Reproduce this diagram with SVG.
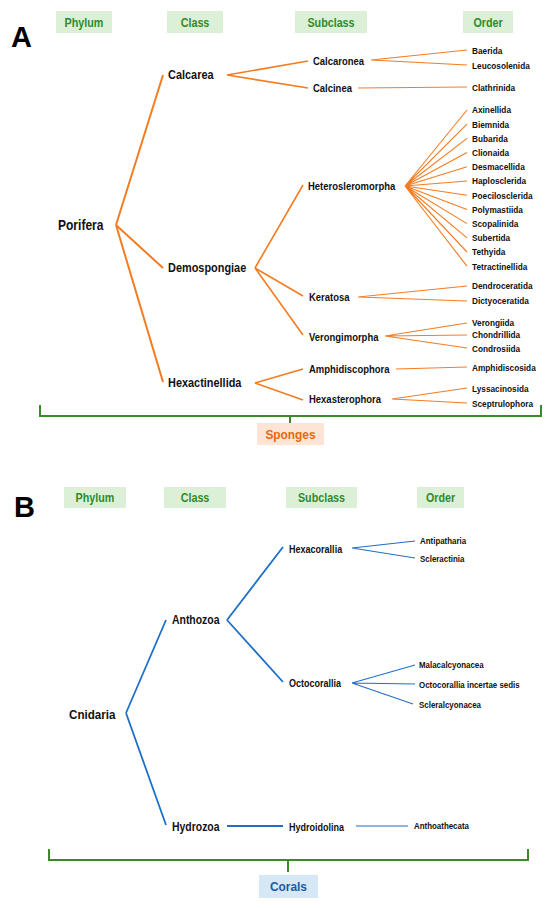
<svg xmlns="http://www.w3.org/2000/svg" width="550" height="908" viewBox="0 0 550 908">
<style>
text{font-family:"Liberation Sans",Arial,sans-serif;font-weight:bold;fill:#111}
.hdr{font-size:12.5px;fill:#2e8b2a;text-anchor:middle}
.hbox{fill:#dcf0d8}
.big{font-size:29px;fill:#000}
.phy{font-size:14px}
.phyb{font-size:13.5px}
.cls{font-size:12px}
.sub{font-size:10.2px}
.subb{font-size:10.5px}
.ord{font-size:9.5px}
.ordb{font-size:9px}
.o1{stroke:#f47c22;fill:none;stroke-width:2}
.o2{stroke:#f47c22;fill:none;stroke-width:1.6}
.o3{stroke:#f47c22;fill:none;stroke-width:1.1}
.b1{stroke:#1f6fc8;fill:none;stroke-width:1.8}
.b2{stroke:#1f6fc8;fill:none;stroke-width:1.1}
.br{stroke:#3a8a2a;fill:none;stroke-width:2}
</style>
<g id="headers-a">
<rect class="hbox" x="56" y="11" width="56" height="22"/>
<text class="hdr" transform="translate(84,26.5) scale(0.86,1)">Phylum</text>
<rect class="hbox" x="167" y="11" width="56" height="22"/>
<text class="hdr" transform="translate(195,26.5) scale(0.86,1)">Class</text>
<rect class="hbox" x="295" y="11" width="72" height="22"/>
<text class="hdr" transform="translate(331,26.5) scale(0.86,1)">Subclass</text>
<rect class="hbox" x="463" y="11" width="50" height="22"/>
<text class="hdr" transform="translate(488,26.5) scale(0.86,1)">Order</text>
<text class="big" x="11" y="47">A</text>
</g>
<g id="connectors-a">
<path class="o1" d="M116,225L163,75M116,225L163,268M116,225L163,382"/>
<path class="o2" d="M227,75L308,61M227,75L308,88M255,268L303,185M255,268L303,296M255,268L303,335M255,383L303,369M255,383L303,400"/>
<path class="o3" d="M371,60L467,50M371,60L467,65M358,88L467,87"/>
<path class="o3" d="M405,186L467,110M405,186L467,124.2M405,186L467,138.4M405,186L467,152.6M405,186L467,166.8M405,186L467,181M405,186L467,195.2M405,186L467,209.4M405,186L467,223.6M405,186L467,237.8M405,186L467,252M405,186L467,266.2"/>
<path class="o3" d="M358,297L467,286M358,297L467,301M385,336L467,323M385,336L467,335M385,336L467,348M396,369L467,367M392,399L467,388M392,399L467,403"/>
<path class="br" d="M40,405V416H541V405M290,416V425"/>
</g>
<g id="n-porifera"><text class="phy" transform="translate(58,230) scale(0.86,1)">Porifera</text></g>
<g id="n-calcarea"><text class="cls" transform="translate(168,79.3) scale(0.91,1)">Calcarea</text></g>
<g id="n-demospongiae"><text class="cls" transform="translate(168,272.3) scale(0.91,1)">Demospongiae</text></g>
<g id="n-hexactinellida"><text class="cls" transform="translate(168,387.3) scale(0.91,1)">Hexactinellida</text></g>
<g id="n-calcaronea"><text class="sub" transform="translate(313,64.7) scale(0.93,1)">Calcaronea</text></g>
<g id="n-calcinea"><text class="sub" transform="translate(313,91.7) scale(0.93,1)">Calcinea</text></g>
<g id="n-heterosleromorpha"><text class="sub" transform="translate(308,189.7) scale(0.93,1)">Heterosleromorpha</text></g>
<g id="n-keratosa"><text class="sub" transform="translate(309,300.7) scale(0.93,1)">Keratosa</text></g>
<g id="n-verongimorpha"><text class="sub" transform="translate(309,340.7) scale(0.93,1)">Verongimorpha</text></g>
<g id="n-amphidiscophora"><text class="sub" transform="translate(309,372.7) scale(0.93,1)">Amphidiscophora</text></g>
<g id="n-hexasterophora"><text class="sub" transform="translate(309,402.7) scale(0.93,1)">Hexasterophora</text></g>
<g id="n-orders-a">
<text class="ord" transform="translate(472,54.4) scale(0.87,1)">Baerida</text>
<text class="ord" transform="translate(472,69.4) scale(0.87,1)">Leucosolenida</text>
<text class="ord" transform="translate(472,91.4) scale(0.87,1)">Clathrinida</text>
<text class="ord" transform="translate(472,113.4) scale(0.87,1)">Axinellida</text>
<text class="ord" transform="translate(472,127.6) scale(0.87,1)">Biemnida</text>
<text class="ord" transform="translate(472,141.8) scale(0.87,1)">Bubarida</text>
<text class="ord" transform="translate(472,156) scale(0.87,1)">Clionaida</text>
<text class="ord" transform="translate(472,170.2) scale(0.87,1)">Desmacellida</text>
<text class="ord" transform="translate(472,184.4) scale(0.87,1)">Haplosclerida</text>
<text class="ord" transform="translate(472,198.6) scale(0.87,1)">Poecilosclerida</text>
<text class="ord" transform="translate(472,212.8) scale(0.87,1)">Polymastiida</text>
<text class="ord" transform="translate(472,227) scale(0.87,1)">Scopalinida</text>
<text class="ord" transform="translate(472,241.2) scale(0.87,1)">Subertida</text>
<text class="ord" transform="translate(472,255.4) scale(0.87,1)">Tethyida</text>
<text class="ord" transform="translate(472,269.6) scale(0.87,1)">Tetractinellida</text>
<text class="ord" transform="translate(472,289.4) scale(0.87,1)">Dendroceratida</text>
<text class="ord" transform="translate(472,304.4) scale(0.87,1)">Dictyoceratida</text>
<text class="ord" transform="translate(472,326.4) scale(0.87,1)">Verongiida</text>
<text class="ord" transform="translate(472,338.4) scale(0.87,1)">Chondrillida</text>
<text class="ord" transform="translate(472,352.4) scale(0.87,1)">Condrosiida</text>
<text class="ord" transform="translate(472,371.4) scale(0.87,1)">Amphidiscosida</text>
<text class="ord" transform="translate(472,392.4) scale(0.87,1)">Lyssacinosida</text>
<text class="ord" transform="translate(472,407.4) scale(0.87,1)">Sceptrulophora</text>
</g>
<g id="n-sponges">
<rect x="257" y="423" width="67" height="22" fill="#fde4d4"/>
<text transform="translate(290.5,439) scale(0.88,1)" style="font-size:13.5px;fill:#e8670f;text-anchor:middle">Sponges</text>
</g>
<g id="headers-b">
<rect class="hbox" x="64" y="487" width="62" height="21"/>
<text class="hdr" transform="translate(95,502) scale(0.86,1)">Phylum</text>
<rect class="hbox" x="164" y="487" width="62" height="21"/>
<text class="hdr" transform="translate(195,502) scale(0.86,1)">Class</text>
<rect class="hbox" x="286" y="487" width="71" height="21"/>
<text class="hdr" transform="translate(321.5,502) scale(0.86,1)">Subclass</text>
<rect class="hbox" x="417" y="487" width="47" height="21"/>
<text class="hdr" transform="translate(440.5,502) scale(0.86,1)">Order</text>
<text class="big" x="14" y="517">B</text>
</g>
<g id="connectors-b">
<path class="b1" d="M126,713L166,620M126,713L166,825M227,620L283,547M227,620L283,682M227,826H283"/>
<path class="b2" d="M352,548L415,541M352,548L415,558M352,683L415,665M352,683L415,684M352,683L413,704M356,826H408"/>
<path class="br" d="M49,849V860H528V849M288,860V872"/>
</g>
<g id="n-cnidaria"><text class="phyb" transform="translate(69,718.5) scale(0.86,1)">Cnidaria</text></g>
<g id="n-anthozoa"><text class="cls" transform="translate(172,623.5) scale(0.87,1)">Anthozoa</text></g>
<g id="n-hydrozoa"><text class="cls" transform="translate(172,831) scale(0.87,1)">Hydrozoa</text></g>
<g id="n-hexacorallia"><text class="subb" transform="translate(289,552.7) scale(0.86,1)">Hexacorallia</text></g>
<g id="n-octocorallia"><text class="subb" transform="translate(289,686.5) scale(0.86,1)">Octocorallia</text></g>
<g id="n-hydroidolina"><text class="subb" transform="translate(289,830.5) scale(0.86,1)">Hydroidolina</text></g>
<g id="n-orders-b">
<text class="ordb" transform="translate(420,544.3) scale(0.88,1)">Antipatharia</text>
<text class="ordb" transform="translate(420,562.3) scale(0.88,1)">Scleractinia</text>
<text class="ordb" transform="translate(419,668.2) scale(0.88,1)">Malacalcyonacea</text>
<text class="ordb" transform="translate(419,688.2) scale(0.88,1)">Octocorallia incertae sedis</text>
<text class="ordb" transform="translate(419,708.2) scale(0.88,1)">Scleralcyonacea</text>
<text class="ordb" transform="translate(414,829.2) scale(0.88,1)">Anthoathecata</text>
</g>
<g id="n-corals">
<rect x="259" y="875" width="59" height="23" fill="#d6e7f6"/>
<text transform="translate(288.5,891) scale(0.88,1)" style="font-size:13.5px;fill:#1e5aa0;text-anchor:middle">Corals</text>
</g>
</svg>
